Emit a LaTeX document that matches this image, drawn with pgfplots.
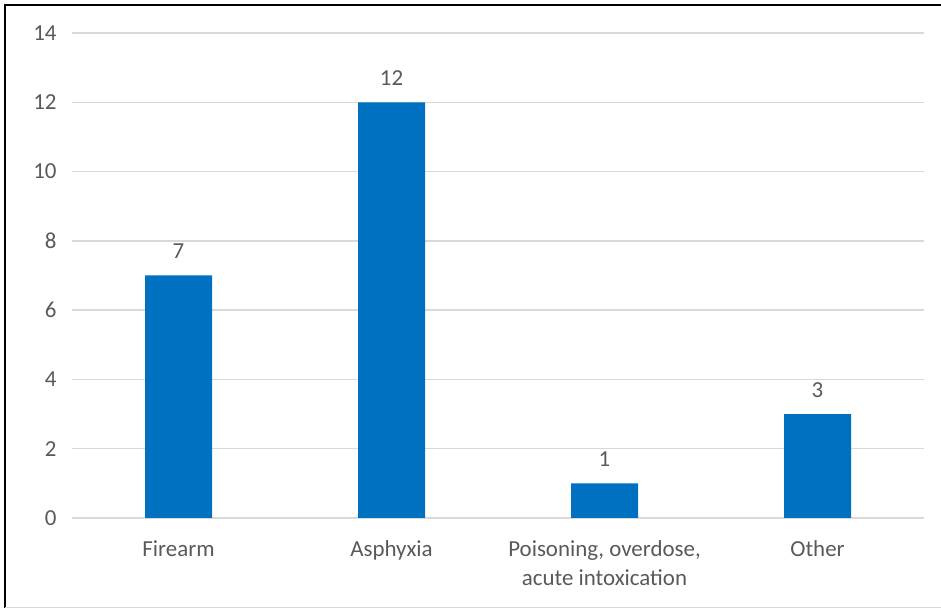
\documentclass[border=0pt]{standalone}
\usepackage{pgfplots}
\pgfplotsset{compat=1.18}
\usepackage{fontspec}
\setmainfont{Carlito}
\definecolor{barblue}{HTML}{0070C0}
\definecolor{txt}{HTML}{595959}
\definecolor{gridc}{HTML}{D9D9D9}
\begin{document}
\begin{tikzpicture}[x=1bp,y=1bp]
\useasboundingbox (0,0) rectangle (941,609);
\draw[black, line width=2.2bp] (5,1) -- (5,604) -- (945,604);
\draw[gridc, line width=1.5bp] (5,1.5) -- (945,1.5);
\begin{axis}[
  at={(72bp,91bp)}, anchor=south west,
  scale only axis, width=852bp, height=485bp,
  xmin=-0.5, xmax=3.5, ymin=0, ymax=14,
  ytick={0,2,...,14},
  xtick={0,1,2,3},
  xticklabels={Firearm, Asphyxia, {Poisoning, overdose,\\acute intoxication}, Other},
  xticklabel style={align=center, font=\fontsize{23}{29}\selectfont, text=txt, yshift=-19bp},
  yticklabel style={font=\fontsize{23}{28}\selectfont, text=txt, xshift=-12bp},
  /pgf/number format/assume math mode=true,
  axis line style={draw=none},
  axis x line*=bottom,
  x axis line style={draw=gridc, line width=1.5bp},
  major tick length=0pt,
  ymajorgrids, grid style={gridc, line width=1.5bp},
  ybar, bar width=67bp,
  nodes near coords,
  nodes near coords style={font=\fontsize{23}{28}\selectfont, text=txt, yshift=13bp},
  clip=false,
]
\addplot[fill=barblue, draw=none] coordinates {(0,7) (1,12) (2,1) (3,3)};
\end{axis}
\end{tikzpicture}
\end{document}
